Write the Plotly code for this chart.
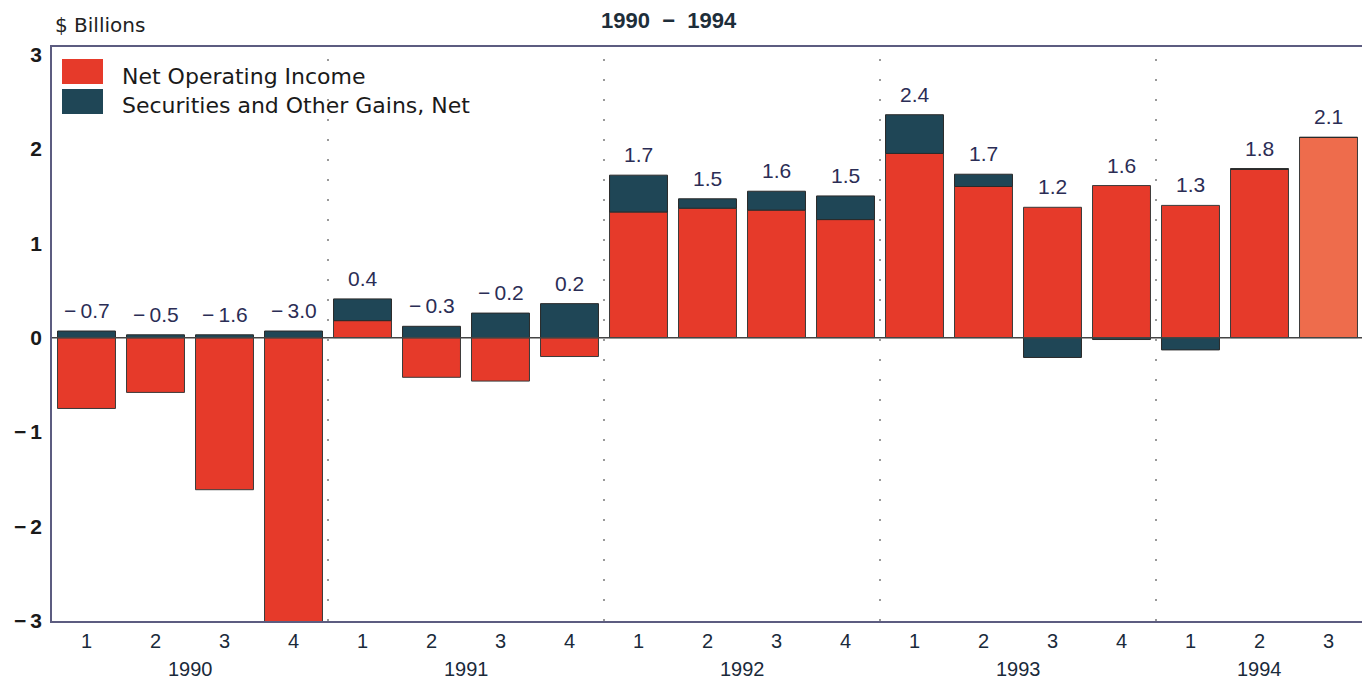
import plotly.graph_objects as go

years = ["1990", "1991", "1992", "1993", "1994"]
quarters = ["1", "2", "3", "4", "1", "2", "3", "4", "1", "2", "3", "4",
            "1", "2", "3", "4", "1", "2", "3"]
quarter_year = ["1990"] * 4 + ["1991"] * 4 + ["1992"] * 4 + ["1993"] * 4 + ["1994"] * 3
net_operating_income = [-0.75, -0.58, -1.61, -3.07, 0.18, -0.42, -0.46, -0.20,
                        1.33, 1.37, 1.35, 1.25, 1.95, 1.60, 1.38, 1.61,
                        1.40, 1.78, 2.12]
securities_gains = [0.07, 0.03, 0.03, 0.07, 0.23, 0.12, 0.26, 0.36,
                    0.39, 0.10, 0.20, 0.25, 0.41, 0.13, -0.21, -0.02,
                    -0.13, 0.01, 0.0]
total_labels = [-0.7, -0.5, -1.6, -3.0, 0.4, -0.3, -0.2, 0.2,
                1.7, 1.5, 1.6, 1.5, 2.4, 1.7, 1.2, 1.6, 1.3, 1.8, 2.1]
series_names = ["Net Operating Income", "Securities and Other Gains, Net"]

FONT = "Liberation Sans"
WIDE_FONT = "DejaVu Sans"
RED = "#E63A2A"
RED_LIGHT = "#EE6C4C"
DARK = "#1F4656"
FRAME = "#5c5c80"

idx = list(range(len(quarters)))
red_colors = [RED] * (len(idx) - 1) + [RED_LIGHT]

fig = go.Figure()
fig.add_trace(go.Bar(
    x=idx, y=net_operating_income, name=series_names[0],
    marker=dict(color=red_colors, line=dict(color="#3a3a3a", width=1)),
    width=0.84, showlegend=False,
))
fig.add_trace(go.Bar(
    x=idx, y=securities_gains, name=series_names[1],
    marker=dict(color=DARK, line=dict(color="#2a2a2a", width=1)),
    width=0.84, showlegend=False,
))

annotations = []
# value labels above each stacked bar
for i, (a, b, lab) in enumerate(zip(net_operating_income, securities_gains, total_labels)):
    top = max(a, 0) + max(b, 0)
    txt = f"{lab:.1f}".replace("-", "\u2212\u2009")
    annotations.append(dict(
        x=i, y=top, xref="x", yref="y", text=txt, showarrow=False,
        yanchor="bottom", yshift=7,
        font=dict(family=FONT, size=21, color="#2b2d55"),
    ))

# year labels centred under their quarters
for yr in years:
    pos = [i for i, q in enumerate(quarter_year) if q == yr]
    annotations.append(dict(
        x=sum(pos) / len(pos), y=0, xref="x", yref="paper", text=yr,
        showarrow=False, yanchor="top", yshift=-35,
        font=dict(family=FONT, size=20, color="#1a2a3a"),
    ))

annotations.append(dict(
    x=0, y=1, xref="paper", yref="paper", text="$ Billions", showarrow=False,
    xanchor="left", yanchor="middle", xshift=1, yshift=22,
    font=dict(family=WIDE_FONT, size=20, color="#222"),
))
annotations.append(dict(
    x=0.471, y=1, xref="paper", yref="paper",
    text="<b>1990\u00a0\u00a0\u2212\u00a0\u00a01994</b>", showarrow=False,
    xanchor="center", yanchor="middle", yshift=27,
    font=dict(family=FONT, size=22, color="#1e2e3a"),
))

shapes = []
# legend swatches and labels (drawn inside the plot, top-left)
legend_colors = [RED, DARK]
for k, (nm, col) in enumerate(zip(series_names, legend_colors)):
    shapes.append(dict(
        type="rect", xref="paper", yref="paper",
        xsizemode="pixel", ysizemode="pixel", xanchor=0, yanchor=1,
        x0=10, x1=51, y0=-12 - 30 * k, y1=-37 - 30 * k,
        fillcolor=col, line=dict(width=0),
    ))
    annotations.append(dict(
        x=0, y=1, xref="paper", yref="paper", text=nm, showarrow=False,
        xanchor="left", yanchor="middle", xshift=68, yshift=-29 - 29 * k,
        font=dict(family=WIDE_FONT, size=22, color="#1a1a1a"),
    ))

for i in range(len(quarter_year) - 1):
    if quarter_year[i] != quarter_year[i + 1]:
        shapes.append(dict(
            type="line", xref="x", yref="paper", x0=i + 0.5, x1=i + 0.5,
            y0=0, y1=1, layer="below",
            line=dict(color="#7a7a7a", width=1.5, dash="2px,18px"),
        ))
shapes.append(dict(
    type="line", xref="paper", yref="y", x0=0, x1=1, y0=0, y1=0,
    line=dict(color="#444444", width=1.5),
))

fig.update_layout(
    width=1362, height=675,
    margin=dict(l=44, r=5, t=39, b=62),
    paper_bgcolor="white", plot_bgcolor="white",
    barmode="relative",
    showlegend=False,
    annotations=annotations,
    shapes=shapes,
    font=dict(family=FONT),
)
fig.update_xaxes(
    range=[-0.5, len(idx) - 0.5], tickmode="array", tickvals=idx,
    ticktext=quarters, showgrid=False, zeroline=False,
    showline=True, linecolor=FRAME, linewidth=1.5, mirror=True,
    ticks="", ticklabelstandoff=1,
    tickfont=dict(family=FONT, size=20, color="#1a2a3a"),
)
fig.update_yaxes(
    range=[-3, 3.077], tickmode="array", tickvals=[3, 2, 1, 0, -1, -2, -3],
    ticktext=["3", "2", "1", "0", "\u2212\u20091", "\u2212\u20092", "\u2212\u20093"],
    showgrid=False, zeroline=False,
    showline=True, linecolor=FRAME, linewidth=1.5, mirror=True,
    ticks="", ticklabelstandoff=4,
    tickfont=dict(family=FONT, size=21, color="#1a1a1a", weight="bold"),
)

fig.write_html("out.html")
